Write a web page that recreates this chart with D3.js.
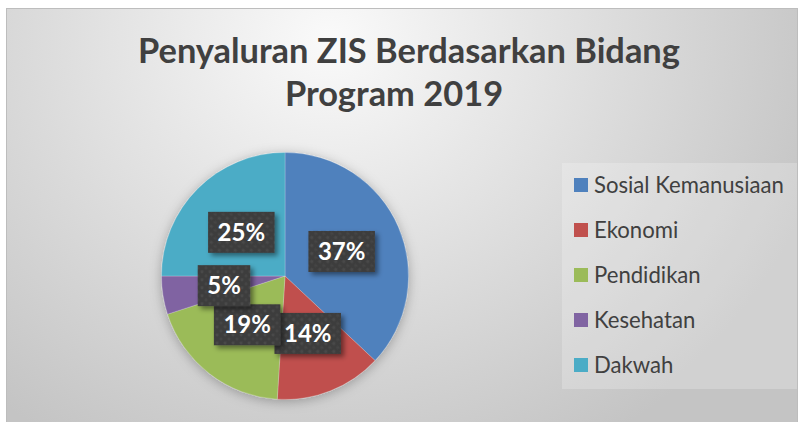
<!DOCTYPE html>
<html>
<head>
<meta charset="utf-8">
<script src="https://cdn.jsdelivr.net/npm/d3@7"></script>
<style>
  html, body { margin: 0; padding: 0; background: #ffffff; }
  svg { display: block; }
</style>
</head>
<body>
<svg id="chart" width="800" height="422"></svg>
<script>
// ---- data ----
const categories = ["Sosial Kemanusiaan", "Ekonomi", "Pendidikan", "Kesehatan", "Dakwah"];
const values = [37, 14, 19, 5, 25];
const colors = ["#4F81BD", "#C0504D", "#9BBB59", "#8064A2", "#4BACC6"];
const titleLines = ["Penyaluran ZIS Berdasarkan Bidang", "Program 2019"];

const svg = d3.select("#chart");
const defs = svg.append("defs");

// background gradient
const bg = defs.append("radialGradient").attr("id", "bg")
  .attr("gradientUnits", "userSpaceOnUse")
  .attr("cx", 330).attr("cy", 40).attr("r", 520)
  .attr("gradientTransform", "translate(330,40) scale(1,0.9) translate(-330,-40)");
bg.append("stop").attr("offset", 0).attr("stop-color", "#fafafa");
bg.append("stop").attr("offset", 0.55).attr("stop-color", "#dcdcdc");
bg.append("stop").attr("offset", 1).attr("stop-color", "#c4c4c4");

// shadows
const sh = defs.append("filter").attr("id", "pieShadow")
  .attr("x", "-30%").attr("y", "-30%").attr("width", "160%").attr("height", "160%");
sh.append("feDropShadow").attr("dx", 0).attr("dy", 2).attr("stdDeviation", 6)
  .attr("flood-color", "#000").attr("flood-opacity", 0.28);
const lsh = defs.append("filter").attr("id", "lblShadow")
  .attr("x", "-30%").attr("y", "-30%").attr("width", "170%").attr("height", "170%");
lsh.append("feDropShadow").attr("dx", 3).attr("dy", 3).attr("stdDeviation", 2.5)
  .attr("flood-color", "#000").attr("flood-opacity", 0.45);

// dotted texture for label boxes
const pat = defs.append("pattern").attr("id", "dots")
  .attr("patternUnits", "userSpaceOnUse").attr("width", 8).attr("height", 8);
pat.append("rect").attr("width", 8).attr("height", 8).attr("fill", "#3d3d3d");
pat.append("circle").attr("cx", 2).attr("cy", 2).attr("r", 1.6).attr("fill", "#4a4a4a");
pat.append("circle").attr("cx", 6).attr("cy", 6).attr("r", 1.6).attr("fill", "#454545");

// chart area
svg.append("rect").attr("x", 6.5).attr("y", 8.5).attr("width", 791).attr("height", 420)
  .attr("fill", "url(#bg)").attr("stroke", "#bdbdbd").attr("stroke-width", 1);

// title
const titleFont = "Lato, 'Open Sans', sans-serif";
const t1 = svg.append("text").attr("text-anchor", "middle")
  .attr("x", 409).attr("y", 63)
  .style("font-family", titleFont).style("font-weight", 700)
  .style("font-size", "32px").attr("fill", "#404040").text(titleLines[0]);
let w1 = t1.node().getComputedTextLength();
const titleSize = 32 * 542 / w1;
t1.style("font-size", titleSize + "px");
svg.append("text").attr("text-anchor", "middle")
  .attr("x", 394).attr("y", 106)
  .style("font-family", titleFont).style("font-weight", 700)
  .style("font-size", titleSize + "px").attr("fill", "#404040").text(titleLines[1]);

// pie
const cx = 285, cy = 276, r = 123.5;
const pie = d3.pie().sort(null).value(d => d);
const arcs = pie(values);
const arc = d3.arc().innerRadius(0).outerRadius(r);
const color = d3.scaleOrdinal().domain(categories).range(colors);

const g = svg.append("g").attr("transform", `translate(${cx},${cy})`);
g.append("g").attr("filter", "url(#pieShadow)")
  .selectAll("path").data(arcs).join("path")
  .attr("d", arc)
  .attr("fill", (d, i) => color(categories[i]))
  .attr("stroke", "rgba(255,255,255,0.35)").attr("stroke-width", 0.6);

// labels
const fmt = d3.format(".0%");
const total = d3.sum(values);
const lblGroups = g.selectAll("g.lbl").data(arcs).join("g").attr("class", "lbl")
  .attr("transform", d => `translate(${arc.centroid(d)})`);
lblGroups.each(function(d) {
  const grp = d3.select(this);
  const rect = grp.append("rect").attr("fill", "url(#dots)").attr("filter", "url(#lblShadow)");
  const txt = grp.append("text").attr("text-anchor", "middle").attr("dy", "0.36em")
    .style("font-family", titleFont).style("font-weight", 700)
    .style("font-size", "24px").attr("fill", "#ffffff")
    .text(fmt(d.value / total));
  const w = txt.node().getComputedTextLength();
  const bw = w + 19, bh = 41;
  rect.attr("x", -bw / 2).attr("y", -bh / 2).attr("width", bw).attr("height", bh);
});

// legend
const lg = svg.append("g");
lg.append("rect").attr("x", 562).attr("y", 163).attr("width", 235).attr("height", 226)
  .attr("fill", "#ffffff").attr("fill-opacity", 0.22);
const legendY = d3.scalePoint().domain(categories).range([185, 365]);
const items = lg.selectAll("g.item").data(categories).join("g").attr("class", "item")
  .attr("transform", d => `translate(574,${legendY(d)})`);
items.append("rect").attr("x", 0).attr("y", -7).attr("width", 14).attr("height", 14)
  .attr("fill", d => color(d));
const ltxt = items.append("text").attr("x", 20).attr("dy", "0.35em")
  .style("font-family", titleFont).style("font-size", "20px")
  .attr("fill", "#404040").text(d => d);
const lw = ltxt.filter((d, i) => i === 0).node().getComputedTextLength();
ltxt.style("font-size", (20 * 190 / lw) + "px");
</script>
</body>
</html>
